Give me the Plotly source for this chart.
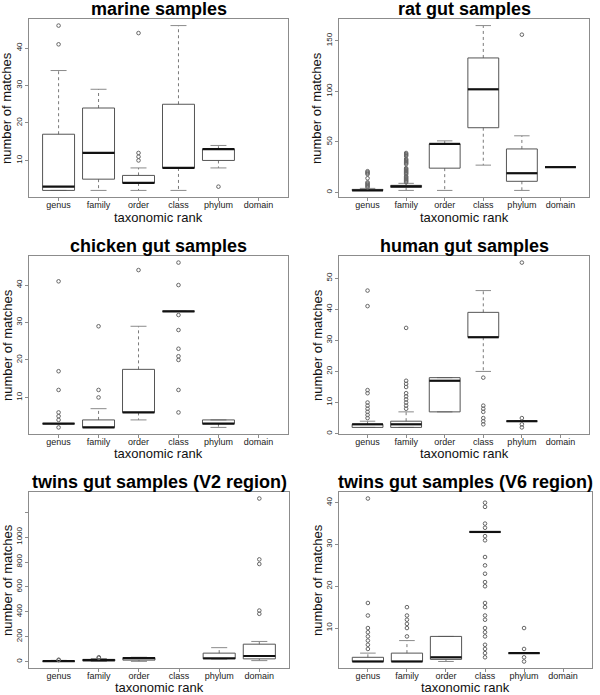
import plotly.graph_objects as go

CATEGORIES = ["genus", "family", "order", "class", "phylum", "domain"]
TITLES = ["marine samples", "rat gut samples", "chicken gut samples",
          "human gut samples", "twins gut samples (V2 region)",
          "twins gut samples (V6 region)"]

# ---- marine ----
MARINE_Q1 = [2, 5, 4, 8, 10, None]
MARINE_MED = [3, 12, 4, 8, 13, None]
MARINE_Q3 = [17, 24, 6, 25, 13, None]
MARINE_LO = [2, 2, 2, 2, 8, None]
MARINE_HI = [34, 29, 8, 46, 14, None]
MARINE_OUT = [[41, 46], [], [10, 11, 12, 44], [], [3], []]
MARINE_TICKS = [10, 20, 30, 40]

# ---- rat gut ----
RAT_Q1 = [2, 5, 24, 64, 11, 25]
RAT_MED = [2, 6, 48, 102, 19, 25]
RAT_Q3 = [3, 7, 48, 133, 43, 25]
RAT_LO = [2, 2, 2, 27, 2, 25]
RAT_HI = [4, 9, 51, 165, 56, 25]
RAT_OUT = [[5, 6, 7, 8, 9, 10, 14, 18, 19, 20, 21],
           [10, 11, 12, 13, 14, 15, 16, 18, 19, 20, 21, 22, 23, 24,
            28, 29, 30, 31, 32, 33, 36, 37, 38, 39],
           [], [], [156], []]
RAT_TICKS = [0, 50, 100, 150]

# ---- chicken gut ----
CHICKEN_Q1 = [3, 2, 6, 33, 3, None]
CHICKEN_MED = [3, 2, 6, 33, 3, None]
CHICKEN_Q3 = [3, 4, 17.5, 33, 4, None]
CHICKEN_LO = [3, 2, 4, 33, 2, None]
CHICKEN_HI = [3, 7, 29, 33, 4, None]
CHICKEN_OUT = [[2, 4, 5, 6, 12, 17, 41], [10, 12, 29], [44],
               [6, 12, 20, 21, 23, 28, 32, 40, 46], [], []]
CHICKEN_TICKS = [10, 20, 30, 40]

# ---- human gut ----
HUMAN_Q1 = [2, 2, 7, 31, 4, None]
HUMAN_MED = [3, 3, 17, 31, 4, None]
HUMAN_Q3 = [3, 4, 18, 39, 4, None]
HUMAN_LO = [2, 2, 7, 20, 4, None]
HUMAN_HI = [4, 7, 18, 46, 4, None]
HUMAN_OUT = [[5, 6, 7, 8, 9, 10, 13, 14, 41, 46],
             [8, 9, 10, 11, 12, 13, 15, 16, 17, 34], [],
             [3, 4, 5, 7, 8, 9, 18], [2, 3, 5, 55], []]
HUMAN_TICKS = [0, 10, 20, 30, 40, 50]

# ---- twins V2 ----
V2_Q1 = [2, 6, 12, None, 22, 22]
V2_MED = [4, 12, 28, None, 27, 45]
V2_Q3 = [6, 18, 32, None, 68, 140]
V2_LO = [1, 2, 2, None, 20, 8]
V2_HI = [10, 25, 35, None, 112, 162]
V2_OUT = [[12, 15], [30, 35], [], [], [], [384, 410, 784, 821, 1310]]
V2_TICKS = [0, 200, 400, 600, 800, 1000, 1200]
V2_TICKTEXT = ["0", "200", "400", "600", "800", "1000", ""]

# ---- twins V6 ----
V6_Q1 = [2, 2, 2.5, 33, 4, None]
V6_MED = [2, 2, 3, 33, 4, None]
V6_Q3 = [3, 4, 8, 33, 4, None]
V6_LO = [2, 2, 2, 33, 4, None]
V6_HI = [4, 7, 8, 33, 4, None]
V6_OUT = [[5, 6, 7, 8, 9, 10, 13, 16, 41], [8, 10, 11, 12, 13, 15], [],
          [3, 4, 5, 6, 8, 9, 10, 12, 13, 15, 16, 20, 21, 23, 25, 27,
           31, 32, 34, 35, 39, 40], [2, 3, 5, 10], []]
V6_TICKS = [10, 20, 30, 40]

PANELS = [
    (MARINE_Q1, MARINE_MED, MARINE_Q3, MARINE_LO, MARINE_HI, MARINE_OUT, MARINE_TICKS, None),
    (RAT_Q1, RAT_MED, RAT_Q3, RAT_LO, RAT_HI, RAT_OUT, RAT_TICKS, None),
    (CHICKEN_Q1, CHICKEN_MED, CHICKEN_Q3, CHICKEN_LO, CHICKEN_HI, CHICKEN_OUT, CHICKEN_TICKS, None),
    (HUMAN_Q1, HUMAN_MED, HUMAN_Q3, HUMAN_LO, HUMAN_HI, HUMAN_OUT, HUMAN_TICKS, None),
    (V2_Q1, V2_MED, V2_Q3, V2_LO, V2_HI, V2_OUT, V2_TICKS, V2_TICKTEXT),
    (V6_Q1, V6_MED, V6_Q3, V6_LO, V6_HI, V6_OUT, V6_TICKS, None),
]

# panel geometry in pixels (x0, x1, y0, y1)
W, H = 600, 695
GEOM = [(29, 288, 19, 197), (339, 589, 19, 197),
        (29, 288, 256, 434), (339, 589, 256, 434),
        (29, 289, 492, 668), (339, 592, 492, 668)]
XTITLE_GAP = [20, 20, 19.5, 19.5, 19.5, 19.5]

FONT = "Liberation Sans, Arial, Helvetica, sans-serif"
BOXW = 0.4
CAPW = 0.2

fig = go.Figure()
layout = dict(width=W, height=H, margin=dict(l=0, r=0, t=0, b=0),
              paper_bgcolor="white", plot_bgcolor="white", showlegend=False,
              font=dict(family=FONT, color="#222"))
annotations = []

for p, (q1s, meds, q3s, los, his, outs, ticks, ticktext) in enumerate(PANELS):
    k = p + 1
    xa = "x" if k == 1 else f"x{k}"
    ya = "y" if k == 1 else f"y{k}"
    bx, by, mx, my, wx, wy, cx, cy, ox, oy = [], [], [], [], [], [], [], [], [], []
    allv = []
    for i in range(len(CATEGORIES)):
        c = i + 1
        for v in outs[i]:
            ox.append(c); oy.append(v); allv.append(v)
        if q1s[i] is None:
            continue
        q1, md, q3, lo, hi = q1s[i], meds[i], q3s[i], los[i], his[i]
        allv += [lo, hi]
        bx += [c - BOXW, c + BOXW, c + BOXW, c - BOXW, c - BOXW, None]
        by += [q1, q1, q3, q3, q1, None]
        mx += [c - BOXW, c + BOXW, None]
        my += [md, md, None]
        wx += [c, c, None, c, c, None]
        wy += [q3, hi, None, q1, lo, None]
        cx += [c - CAPW, c + CAPW, None, c - CAPW, c + CAPW, None]
        cy += [hi, hi, None, lo, lo, None]
    common = dict(xaxis=xa, yaxis=ya, hoverinfo="skip")
    fig.add_trace(go.Scatter(x=wx, y=wy, mode="lines",
                             line=dict(color="#7a7a7a", width=1, dash="3px,3px"), **common))
    fig.add_trace(go.Scatter(x=cx, y=cy, mode="lines",
                             line=dict(color="#8a8a8a", width=1), **common))
    fig.add_trace(go.Scatter(x=bx, y=by, mode="lines",
                             line=dict(color="#555555", width=1), **common))
    fig.add_trace(go.Scatter(x=mx, y=my, mode="lines",
                             line=dict(color="#111111", width=2.2), **common))
    fig.add_trace(go.Scatter(x=ox, y=oy, mode="markers",
                             marker=dict(symbol="circle-open", size=3.6,
                                         color="#666666", line=dict(width=1)), **common))

    ymin, ymax = min(allv), max(allv)
    pad = 0.04 * (ymax - ymin)
    x0, x1, y0, y1 = GEOM[p]
    n = len(CATEGORIES)
    axis_common = dict(showline=True, mirror=True, linecolor="#8c8c8c", linewidth=1,
                       ticks="outside", ticklen=3, tickcolor="#8c8c8c",
                       showgrid=False, zeroline=False, fixedrange=True)
    layout["xaxis" if k == 1 else f"xaxis{k}"] = dict(
        domain=[x0 / W, x1 / W], anchor=ya,
        range=[0.5 - 0.04 * n, n + 0.5 + 0.04 * n],
        tickvals=list(range(1, n + 1)), ticktext=CATEGORIES,
        tickfont=dict(size=9, color="#222"), ticklabelstandoff=-4, **axis_common)
    layout["yaxis" if k == 1 else f"yaxis{k}"] = dict(
        domain=[1 - y1 / H, 1 - y0 / H], anchor=xa,
        range=[ymin - pad, ymax + pad],
        tickvals=ticks, ticktext=ticktext if ticktext else [str(t) for t in ticks],
        tickangle=-90, tickfont=dict(size=8, color="#222"), **axis_common)

    xc = (x0 + x1) / 2
    annotations.append(dict(text=f"<b>{TITLES[p]}</b>", x=xc / W, y=1 - (y0 - 10) / H,
                            xref="paper", yref="paper", xanchor="center", yanchor="middle",
                            showarrow=False, font=dict(size=18, color="#000")))
    annotations.append(dict(text="taxonomic rank", x=xc / W, y=1 - (y1 + XTITLE_GAP[p]) / H,
                            xref="paper", yref="paper", xanchor="center", yanchor="middle",
                            showarrow=False, font=dict(size=13, color="#111")))
    annotations.append(dict(text="number of matches", x=(x0 - 22) / W, y=1 - ((y0 + y1) / 2) / H,
                            xref="paper", yref="paper", xanchor="center", yanchor="middle",
                            textangle=-90, showarrow=False, font=dict(size=13, color="#111")))

layout["annotations"] = annotations
fig.update_layout(**layout)
fig.write_html("out.html", config={"displayModeBar": False},
               post_script="document.body.style.margin='0';")
